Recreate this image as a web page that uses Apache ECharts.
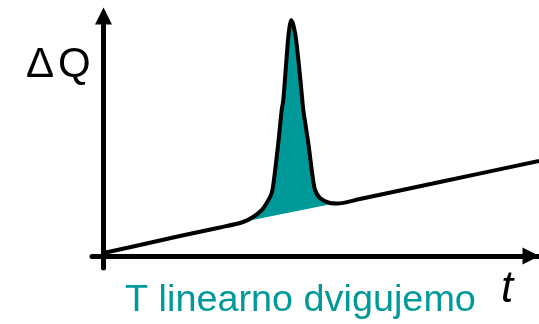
<!DOCTYPE html>
<html>
<head>
<meta charset="utf-8">
<script src="https://cdn.jsdelivr.net/npm/echarts@6/dist/echarts.min.js"></script>
<style>
html,body{margin:0;padding:0;background:#fff;}
#chart{width:539px;height:324px;}
</style>
</head>
<body>
<div id="chart"></div>
<script>
// Measured curve: time (t) and heat flow (ΔQ), arbitrary units
var tValues = [0, 9.1, 19.1, 29.1, 34.9, 37.4, 39.6, 40.8, 42.05, 42.7, 43.7, 44.55, 44.95, 45.6, 46.3, 46.9, 47.9, 48.9, 49.7, 49.95, 51.2, 52.3, 52.9, 54.1, 56.6, 58.4, 64.1, 84.1, 108.9];
var qValues = [1.2, 4.4, 8.0, 11.4, 13.6, 15.6, 18.4, 21.2, 25.2, 31.6, 45.2, 58.4, 62.4, 75.6, 89.2, 94.4, 89.2, 75.6, 62.4, 58.4, 45.2, 31.6, 26.4, 23.2, 21.2, 21.0, 22.8, 29.6, 38.0];
// Baseline under the peak (start / end)
var baseT = [36.6, 57.1];
var baseQ = [14.2, 20.8];
// Peak range indices of the curve used for the shaded area
var peakStart = 5, peakEnd = 24;
// Texts
var yLabel = ['\u0394', 'Q'];
var xLabel = 't';
var caption = 'T linearno dvigujemo';

var curve = tValues.map(function (t, i) { return [t, qValues[i]]; });
var fillPts = [[baseT[0], baseQ[0]]];
for (var i = peakStart; i <= peakEnd; i++) fillPts.push([tValues[i], qValues[i]]);
fillPts.push([baseT[1], baseQ[1]]);

var teal = '#009999';
var font = "'Liberation Sans', Arial, sans-serif";
var chart = echarts.init(document.getElementById('chart'), null, {renderer: 'canvas'});
function axisBase(endOffset) {
  return {
    type: 'value',
    axisTick: {show: false},
    axisLabel: {show: false},
    splitLine: {show: false},
    axisLine: {
      show: true, onZero: true,
      symbol: ['none', 'triangle'],
      symbolSize: [17, 17],
      symbolOffset: [0, endOffset],
      lineStyle: {color: '#000', width: 5}
    }
  };
}
chart.setOption({
  animation: false,
  backgroundColor: '#fff',
  grid: {left: 92, right: 0, top: 16, bottom: 56},
  xAxis: Object.assign(axisBase(-8), {min: -2.875, max: 108.875}),
  yAxis: Object.assign(axisBase(0), {min: -4.8, max: 96}),
  graphic: [
    {type: 'text', left: 26, top: 44, style: {text: yLabel[0], font: '42px ' + font, fill: '#000'}},
    {type: 'text', left: 58, top: 44, style: {text: yLabel[1], font: '42px ' + font, fill: '#000'}},
    {type: 'text', left: 501, top: 268, style: {text: xLabel, font: 'italic 44px ' + font, fill: '#000'}},
    {type: 'text', left: 125, top: 283, scaleX: 1.05, style: {text: caption, font: '36px ' + font, fill: teal}}
  ],
  series: [
    {
      type: 'custom',
      clip: false,
      z: 1,
      data: [0],
      renderItem: function (params, api) {
        var pts = fillPts.map(function (p) { return api.coord(p); });
        return {type: 'polygon', shape: {points: pts}, style: {fill: teal, stroke: null}};
      }
    },
    {
      type: 'line',
      data: curve,
      showSymbol: false,
      smooth: 0.3,
      clip: false,
      z: 3,
      lineStyle: {color: '#000', width: 4}
    }
  ]
});
</script>
</body>
</html>
